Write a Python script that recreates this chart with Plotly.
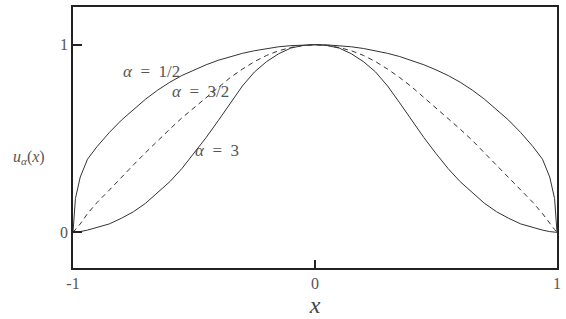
import plotly.graph_objects as go

x_vals = [-1, -0.99, -0.97, -0.94, -0.9, -0.85, -0.8, -0.75, -0.7, -0.65, -0.6, -0.55, -0.5,
          -0.45, -0.4, -0.35, -0.3, -0.25, -0.2, -0.15, -0.1, -0.05, 0,
          0.05, 0.1, 0.15, 0.2, 0.25, 0.3, 0.35, 0.4, 0.45, 0.5,
          0.55, 0.6, 0.65, 0.7, 0.75, 0.8, 0.85, 0.9, 0.94, 0.97, 0.99, 1]
u_half = [0, 0.18, 0.295, 0.39, 0.458, 0.532, 0.598, 0.656, 0.71, 0.758, 0.80, 0.836, 0.866,
          0.893, 0.917, 0.937, 0.954, 0.968, 0.98, 0.989, 0.995, 0.999, 1,
          0.999, 0.995, 0.989, 0.98, 0.968, 0.954, 0.937, 0.917, 0.893, 0.866,
          0.836, 0.80, 0.758, 0.71, 0.656, 0.598, 0.532, 0.458, 0.39, 0.295, 0.18, 0]
u_three_half = [0, 0.015, 0.045, 0.10, 0.16, 0.225, 0.295, 0.36, 0.425, 0.49, 0.55, 0.61, 0.665,
                0.72, 0.775, 0.825, 0.87, 0.91, 0.943, 0.968, 0.985, 0.996, 1,
                0.996, 0.985, 0.968, 0.943, 0.91, 0.87, 0.825, 0.775, 0.72, 0.665,
                0.61, 0.55, 0.49, 0.425, 0.36, 0.295, 0.225, 0.16, 0.10, 0.045, 0.015, 0]
u_three = [0, 0.001, 0.004, 0.012, 0.025, 0.045, 0.075, 0.11, 0.155, 0.21, 0.27, 0.34, 0.42,
           0.505, 0.595, 0.69, 0.78, 0.855, 0.91, 0.952, 0.982, 0.996, 1,
           0.996, 0.982, 0.952, 0.91, 0.855, 0.78, 0.69, 0.595, 0.505, 0.42,
           0.34, 0.27, 0.21, 0.155, 0.11, 0.075, 0.045, 0.025, 0.012, 0.004, 0.001, 0]

labels = ["<i>α</i>  =  1/2", "<i>α</i>  =  3/2", "<i>α</i>  =  3"]
label_x = [-0.675, -0.473, -0.407]
label_y = [0.855, 0.751, 0.434]

x_ticks = [-1, 0, 1]
y_ticks = [0, 1]

line_col = "#333333"
serif = "Liberation Serif"

fig = go.Figure()
fig.add_trace(go.Scatter(x=x_vals, y=u_half, mode="lines",
                         line=dict(color=line_col, width=1), showlegend=False))
fig.add_trace(go.Scatter(x=x_vals, y=u_three_half, mode="lines",
                         line=dict(color=line_col, width=1, dash="5px,4px"), showlegend=False))
fig.add_trace(go.Scatter(x=x_vals, y=u_three, mode="lines",
                         line=dict(color=line_col, width=1), showlegend=False))

for t, lx, ly in zip(labels, label_x, label_y):
    fig.add_annotation(x=lx, y=ly, text=t, showarrow=False,
                       font=dict(family=serif, size=17, color="#555555"))

fig.add_annotation(xref="paper", yref="y", x=-0.053, xanchor="right", y=0.4,
                   text="<i>u</i><sub><i>α</i></sub>(<i>x</i>)", showarrow=False,
                   font=dict(family=serif, size=16, color="#555555"))

fig.update_layout(
    width=566, height=319,
    margin=dict(l=73, r=7, t=5, b=51),
    plot_bgcolor="white", paper_bgcolor="white",
    font=dict(family=serif, color="#555555"),
    xaxis=dict(range=[-1, 1], tickvals=x_ticks, ticktext=[str(v) for v in x_ticks],
               ticks="inside", ticklen=8, tickcolor="#222222", tickwidth=1.5,
               showline=True, linecolor="#222222", linewidth=1.5, mirror=True,
               showgrid=False, zeroline=False,
               tickfont=dict(family=serif, size=16, color="#555555"),
               title=dict(text="<i>x</i>", font=dict(family=serif, size=24, color="#444444"),
                          standoff=2)),
    yaxis=dict(range=[-0.19, 1.201], tickvals=y_ticks, ticktext=[str(v) for v in y_ticks],
               ticks="inside", ticklen=9, tickcolor="#222222", tickwidth=1.5,
               showline=True, linecolor="#222222", linewidth=1.5, mirror=True,
               showgrid=False, zeroline=False,
               tickfont=dict(family=serif, size=16, color="#555555")),
)

fig.write_html("out.html")
